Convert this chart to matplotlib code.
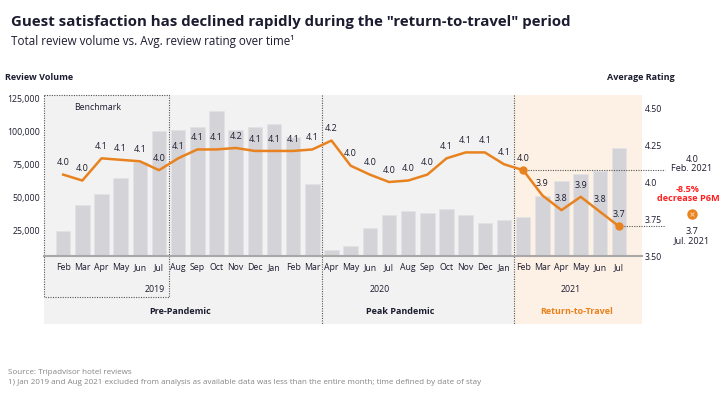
import matplotlib
matplotlib.use('Agg')
import matplotlib.pyplot as plt
import numpy as np

plt.rcParams['font.family'] = ['Open Sans', 'DejaVu Sans']

# monthly data, Feb 2019 - Jul 2021
months = ['Feb', 'Mar', 'Apr', 'May', 'Jun', 'Jul', 'Aug', 'Sep', 'Oct', 'Nov', 'Dec', 'Jan',
          'Feb', 'Mar', 'Apr', 'May', 'Jun', 'Jul', 'Aug', 'Sep', 'Oct', 'Nov', 'Dec', 'Jan',
          'Feb', 'Mar', 'Apr', 'May', 'Jun', 'Jul']
volume = [24200, 43900, 52300, 64100, 76300, 99800, 100700, 102800, 115200, 100500, 102800, 105300,
          95200, 60100, 9850, 13100, 26800, 36600, 39100, 37900, 41200, 36100, 30300, 32600,
          34600, 50800, 62400, 67700, 69400, 86900]
rating = [4.05, 4.01, 4.16, 4.15, 4.14, 4.08, 4.16, 4.22, 4.22, 4.23, 4.21, 4.21,
          4.21, 4.22, 4.28, 4.11, 4.05, 4.00, 4.01, 4.05, 4.16, 4.20, 4.20, 4.12,
          4.08, 3.91, 3.81, 3.90, 3.80, 3.70]
rating_labels = ['4.0', '4.0', '4.1', '4.1', '4.1', '4.0', '4.1', '4.1', '4.1', '4.2', '4.1', '4.1',
                 '4.1', '4.1', '4.2', '4.0', '4.0', '4.0', '4.0', '4.0', '4.1', '4.1', '4.1', '4.1',
                 '4.0', '3.9', '3.8', '3.9', '3.8', '3.7']
years = ['2019', '2020', '2021']
periods = ['Pre-Pandemic', 'Peak Pandemic', 'Return-to-Travel']
vol_ticks = [25000, 50000, 75000, 100000, 125000]
rating_ticks = [3.5, 3.75, 4.0, 4.25, 4.5]
rating_tick_labels = ['3.50', '3.75', '4.0', '4.25', '4.50']

NAVY = '#1c1c30'
ORANGE = '#E8821E'
BAR = '#D3D3D8'
GREY_BG = '#F2F2F2'
ORANGE_BG = '#FDF0E4'
DOT = '#555555'

W, H = 721, 396
fig = plt.figure(figsize=(W / 100, H / 100), dpi=100)


# pixel -> figure coords
def fx(px):
    return px / W


def fy(py):
    return 1 - py / H


top, base = 95, 256
ax = fig.add_axes([fx(44), fy(base), fx(642) - fx(44), fy(top) - fy(base)])
ax.set_facecolor('none')
x = np.arange(len(months))
ax.set_xlim(-1, 30.2)
ax.set_ylim(5300, 127300)

# axes-fraction y for pixel rows below the plot
def ay(py):
    return (base - py) / (base - top)


tr = ax.get_xaxis_transform()
# background bands
ax.add_patch(plt.Rectangle((-1, ay(324)), 24.5, 1 - ay(324), transform=tr,
                           color=GREY_BG, zorder=0, clip_on=False, lw=0))
ax.add_patch(plt.Rectangle((23.5, ay(324)), 30.2 - 23.5, 1 - ay(324), transform=tr,
                           color=ORANGE_BG, zorder=0, clip_on=False, lw=0))

# dotted separators and benchmark box
dot_kw = dict(transform=tr, color=DOT, lw=0.8, ls=(0, (1, 1.2)), clip_on=False, zorder=1)
ax.plot([-1, 5.5, 5.5, -1, -1], [1, 1, ay(297), ay(297), 1], **dot_kw)
ax.plot([13.5, 13.5], [1, ay(324)], **dot_kw)
ax.plot([23.5, 23.5], [1, ay(324)], **dot_kw)
ax.text(1.8, ay(107), 'Benchmark', transform=tr, ha='center', va='center', fontsize=6.3, color=NAVY)

# bars
ax.bar(x, volume, width=0.76, color=BAR, edgecolor='#E3E3E7', lw=0.6, zorder=2)

ax.set_xticks(x, months)
ax.set_yticks(vol_ticks, [f'{v:,}' for v in vol_ticks])
ax.tick_params(axis='both', length=0, labelsize=6.3, labelcolor=NAVY)
ax.tick_params(axis='x', pad=5)
ax.tick_params(axis='y', pad=3)
for s in ['left', 'top', 'right']:
    ax.spines[s].set_visible(False)
ax.spines['bottom'].set_color('#A8A8A8')
ax.spines['bottom'].set_linewidth(1.5)
ax.spines['bottom'].set_zorder(3)

# years and periods
ax.text(5.3, ay(289), years[0], transform=tr, ha='right', va='center', fontsize=6.3, color=NAVY)
ax.text(16.5, ay(289), years[1], transform=tr, ha='center', va='center', fontsize=6.3, color=NAVY)
ax.text(26.5, ay(289), years[2], transform=tr, ha='center', va='center', fontsize=6.3, color=NAVY)
ax.text(6.1, ay(312), periods[0], transform=tr, ha='center', va='center', fontsize=6.5,
        fontweight='bold', color=NAVY)
ax.text(17.6, ay(312), periods[1], transform=tr, ha='center', va='center', fontsize=6.5,
        fontweight='bold', color=NAVY)
ax.text(26.8, ay(312), periods[2], transform=tr, ha='center', va='center', fontsize=6.5,
        fontweight='bold', color=ORANGE)

# rating line
ax2 = ax.twinx()
ax2.set_ylim(3.5, 4.588)
ax2.plot(x, rating, color=ORANGE, lw=1.8, zorder=4)
ax2.plot(x[[24, 29]], [rating[24], rating[29]], 'o', color=ORANGE, ms=5, zorder=5)
for xi, r, lbl in zip(x, rating, rating_labels):
    ax2.annotate(lbl, (xi, r), xytext=(0, 8.5), textcoords='offset points', ha='center',
                 va='center', fontsize=6.5, color=NAVY)
ax2.set_yticks(rating_ticks, rating_tick_labels)
ax2.tick_params(axis='y', length=0, labelsize=6.3, labelcolor=NAVY, pad=2)
for s in ax2.spines.values():
    s.set_visible(False)

# leader lines to the side notes
end_x = 31.4
ax2.plot([24, end_x], [rating[24]] * 2, color=DOT, lw=0.8, ls=(0, (1, 1.2)), clip_on=False, zorder=1)
ax2.plot([29, end_x], [rating[29]] * 2, color=DOT, lw=0.8, ls=(0, (1, 1.2)), clip_on=False, zorder=1)

fig.text(fx(692), fy(164), rating_labels[24] + '\nFeb. 2021', ha='center', va='center',
         fontsize=6.6, color=NAVY, linespacing=1.1)
fig.text(fx(688), fy(194), '-8.5%\ndecrease P6M', ha='center', va='center', fontsize=6.6,
         fontweight='bold', color='#FF2020', linespacing=1.0)
ax2.plot([32.8], [3.5 + (256 - 214) / 148], 'o', color=ORANGE, ms=6.5, clip_on=False)
ax2.plot([32.8], [3.5 + (256 - 214) / 148], 'x', color='#F8C890', ms=2.5, mew=0.8, clip_on=False)
fig.text(fx(692), fy(236), rating_labels[29] + '\nJul. 2021', ha='center', va='center',
         fontsize=6.6, color=NAVY, linespacing=1.1)

# axis titles
fig.text(fx(5), fy(77), 'Review Volume', ha='left', va='center', fontsize=6.5,
         fontweight='bold', color=NAVY)
fig.text(fx(607), fy(77), 'Average Rating', ha='left', va='center', fontsize=6.5,
         fontweight='bold', color=NAVY)

# titles
fig.text(fx(11), fy(22), 'Guest satisfaction has declined rapidly during the "return-to-travel" period',
         ha='left', va='center', fontsize=10.8, fontweight='bold', color=NAVY)
fig.text(fx(11), fy(42), 'Total review volume vs. Avg. review rating over time¹',
         ha='left', va='center', fontsize=8.4, color=NAVY)

# footnotes
fig.text(fx(8), fy(373), 'Source: Tripadvisor hotel reviews', ha='left', va='center',
         fontsize=5.8, color='#858585')
fig.text(fx(8), fy(382), '1) Jan 2019 and Aug 2021 excluded from analysis as available data was less '
         'than the entire month; time defined by date of stay', ha='left', va='center',
         fontsize=5.8, color='#858585')

fig.savefig('out.png', dpi=100)
